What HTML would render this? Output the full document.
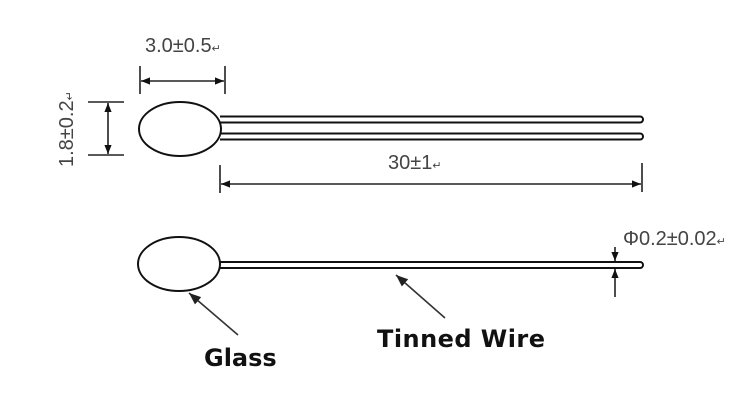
<!DOCTYPE html>
<html><head><meta charset="utf-8"><style>html,body{margin:0;padding:0;background:#fff;}svg{display:block}</style></head>
<body>
<svg width="750" height="404" viewBox="0 0 750 404" xmlns="http://www.w3.org/2000/svg">
<defs>
<marker id="a" viewBox="0 0 10 10" refX="10" refY="5" markerWidth="9" markerHeight="9" markerUnits="userSpaceOnUse" orient="auto-start-reverse"><path d="M0,1 L10,5 L0,9 z" fill="#111"/></marker>
<marker id="b" viewBox="0 0 10 10" refX="10" refY="5" markerWidth="12" markerHeight="12" markerUnits="userSpaceOnUse" orient="auto"><path d="M0,1 L10,5 L0,9 z" fill="#222"/></marker>
</defs>
<g stroke="#111" stroke-width="2" fill="none">
<ellipse cx="180" cy="129" rx="41" ry="27"/>
<path d="M220,116.5 H640 a3,3 0 0 1 0,6 H220"/>
<path d="M220,133.5 H640 a3,3 0 0 1 0,6 H220"/>
<ellipse cx="179" cy="264" rx="41" ry="27"/>
<path d="M219,262 H640 a3,3 0 0 1 0,6 H219"/>
</g>
<g stroke="#222" stroke-width="1.6" fill="none">
<line x1="140" y1="66" x2="140" y2="94"/><line x1="225" y1="66" x2="225" y2="94"/>
<line x1="141" y1="81" x2="224" y2="81" marker-start="url(#a)" marker-end="url(#a)"/>
<line x1="88" y1="102" x2="124" y2="102"/><line x1="88" y1="155" x2="124" y2="155"/>
<line x1="108" y1="103" x2="108" y2="154" marker-start="url(#a)" marker-end="url(#a)"/>
<line x1="220" y1="165" x2="220" y2="193"/><line x1="642" y1="163" x2="642" y2="192"/>
<line x1="221" y1="184" x2="641" y2="184" marker-start="url(#a)" marker-end="url(#a)"/>
<line x1="615" y1="247" x2="615" y2="261" marker-end="url(#a)"/>
<line x1="615" y1="297" x2="615" y2="269" marker-end="url(#a)"/>
<line x1="238" y1="335" x2="189" y2="293" marker-end="url(#b)" stroke="#333"/>
<line x1="445" y1="318" x2="396" y2="275" marker-end="url(#b)" stroke="#333"/>
</g>
<g font-family="Liberation Sans, sans-serif" fill="#444" font-size="20">
<text x="145" y="52">3.0±0.5<tspan font-size="11">↵</tspan></text>
<text x="0" y="0" transform="translate(73,167) rotate(-90)">1.8±0.2<tspan font-size="11">↵</tspan></text>
<text x="388" y="169">30±1<tspan font-size="11">↵</tspan></text>
<text x="623" y="245">Φ0.2±0.02<tspan font-size="11">↵</tspan></text>
</g>
<g font-family="DejaVu Sans, Liberation Sans, sans-serif" font-weight="bold" fill="#111" font-size="24">
<text x="204" y="366">Glass</text>
<text x="377" y="347" textLength="168">Tinned Wire</text>
</g>
</svg>
</body></html>
